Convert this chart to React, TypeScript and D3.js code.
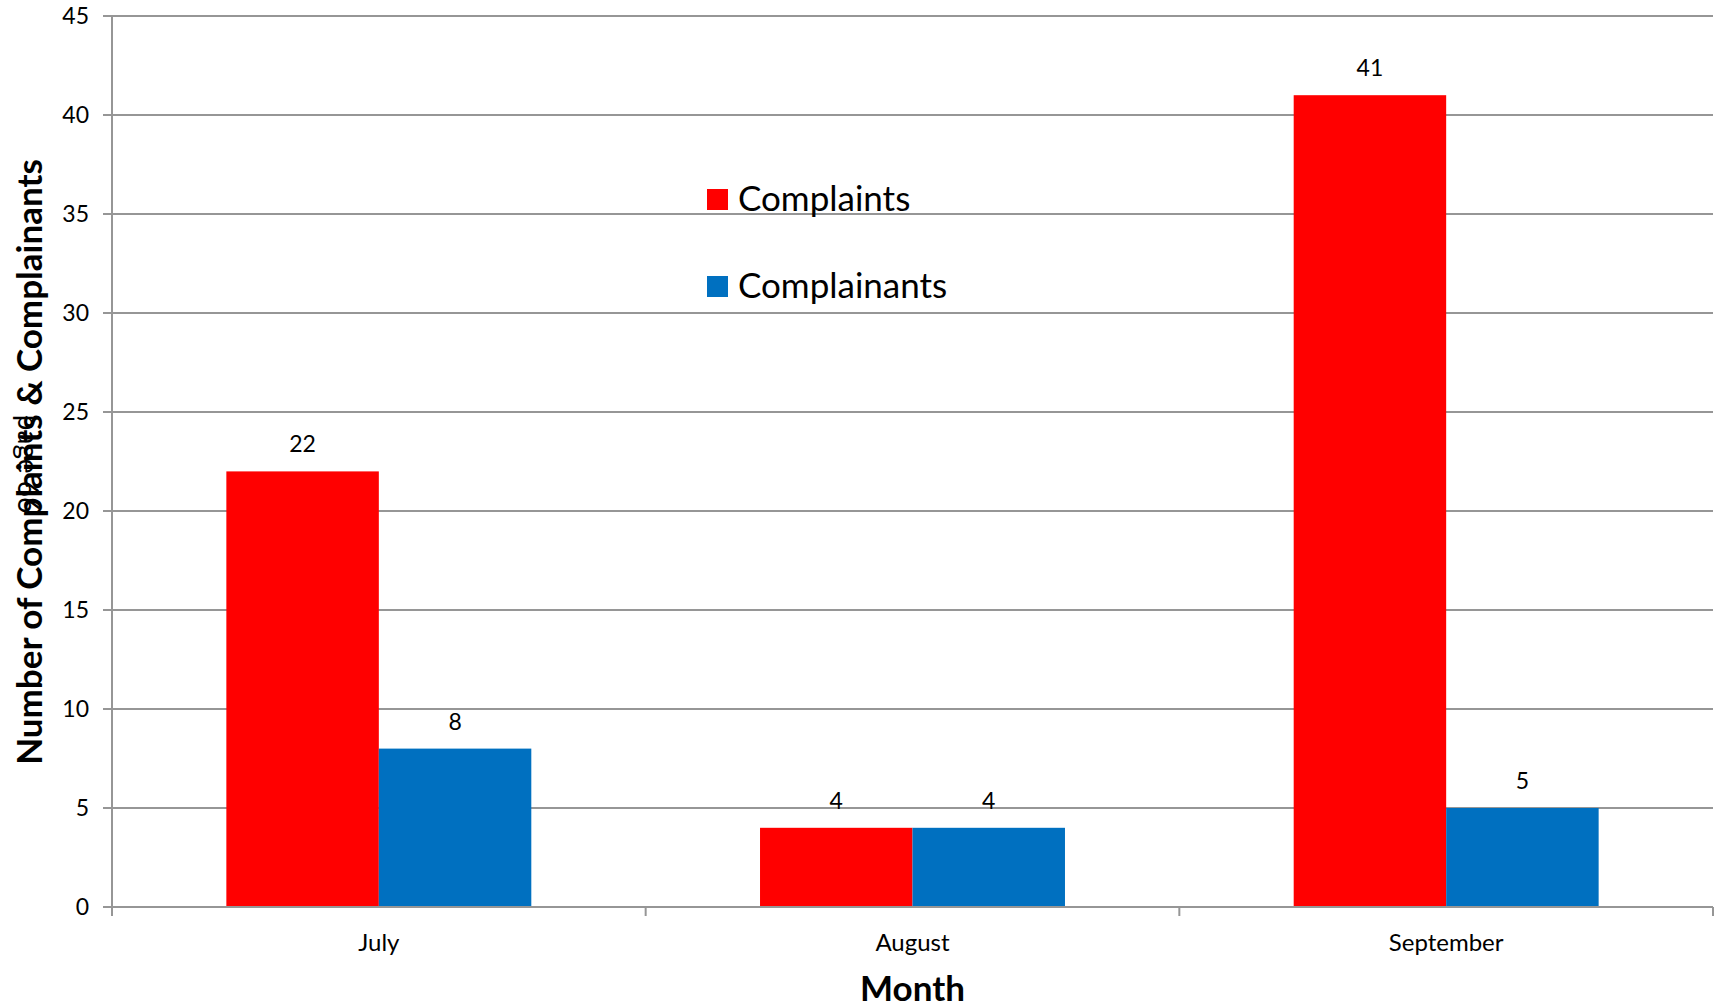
import React from "react";
import * as d3 from "d3";

const months = ["July", "August", "September"];
const seriesNames = ["Complaints", "Complainants"];
const complaints = [22, 4, 41];
const complainants = [8, 4, 5];
const yTicks = [0, 5, 10, 15, 20, 25, 30, 35, 40, 45];
const colors = ["#FF0000", "#0070C0"];

const W = 1720;
const H = 1005;
const left = 112;
const right = 1713;
const top = 16;
const bottom = 907;
const FONT = "Lato, 'Open Sans', sans-serif";

export default function App() {
  const x = d3.scaleBand<string>().domain(months).range([left, right]).paddingInner(0).paddingOuter(0);
  const xs = d3.scaleBand<string>().domain(seriesNames).range([0, x.bandwidth()]).paddingInner(0).paddingOuter(0.75);
  const y = d3.scaleLinear().domain([0, 45]).range([bottom, top]);
  const values = [complaints, complainants];
  const boundaries = [...months.map((m) => x(m) as number), right];
  const grid = "#969696";

  return (
    <svg width={W} height={H} style={{ position: "absolute", left: 0, top: 0, background: "#fff" }} fontFamily={FONT}>
      {yTicks.map((t) => (
        <g key={t}>
          <line x1={left - 9} x2={right} y1={y(t)} y2={y(t)} stroke={grid} strokeWidth={2} />
          <text x={89} y={y(t)} dy="0.36em" textAnchor="end" fontSize={23} fill="#000">
            {t}
          </text>
        </g>
      ))}
      {seriesNames.map((s, si) =>
        months.map((m, mi) => {
          const bx = (x(m) as number) + (xs(s) as number);
          const v = values[si][mi];
          return (
            <g key={s + m}>
              <rect x={bx} y={y(v)} width={xs.bandwidth()} height={y(0) - y(v)} fill={colors[si]} />
              <text x={bx + xs.bandwidth() / 2} y={y(v) - 19} textAnchor="middle" fontSize={23} fill="#000">
                {v}
              </text>
            </g>
          );
        })
      )}
      <line x1={left} x2={left} y1={top} y2={bottom + 9} stroke={grid} strokeWidth={2} />
      <line x1={left} x2={right} y1={bottom} y2={bottom} stroke={grid} strokeWidth={2} />
      {boundaries.map((b, i) => (
        <line key={i} x1={b} x2={b} y1={bottom} y2={bottom + 9} stroke={grid} strokeWidth={2} />
      ))}
      {months.map((m) => (
        <text key={m} x={(x(m) as number) + x.bandwidth() / 2} y={951} textAnchor="middle" fontSize={24} fill="#000">
          {m}
        </text>
      ))}
      <text x={(left + right) / 2} y={1001} textAnchor="middle" fontSize={35} fontWeight="bold" fill="#000">
        Month
      </text>
      <text transform={`translate(42, 462) rotate(-90)`} textAnchor="middle" fontSize={35} fontWeight="bold" fill="#000">
        Number of Complaints &amp; Complainants
      </text>
      <text transform={`translate(18, 464) rotate(90)`} textAnchor="middle" fontSize={28} fill="#000">
        page 66
      </text>
      {seriesNames.map((s, i) => (
        <g key={s} transform={`translate(707, ${189 + i * 87})`}>
          <rect x={0} y={0} width={21} height={21} fill={colors[i]} />
          <text x={31} y={22} fontSize={35} fill="#000">
            {s}
          </text>
        </g>
      ))}
    </svg>
  );
}
